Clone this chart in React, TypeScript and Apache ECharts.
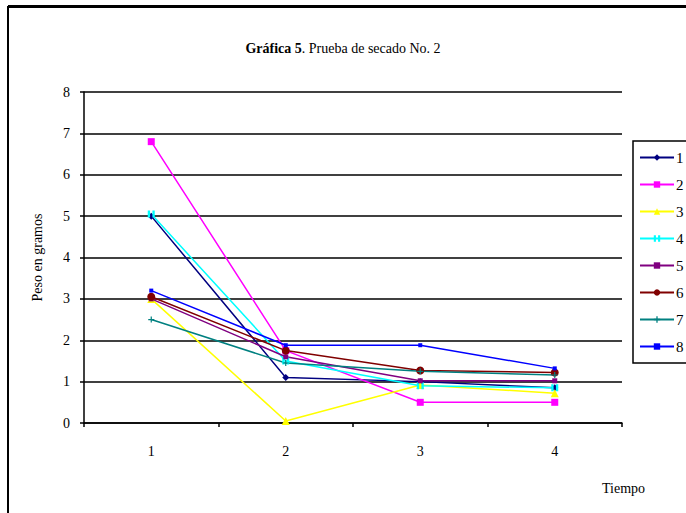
import React, { useEffect, useRef } from "react";
import * as echarts from "echarts";

const categories = ["1", "2", "3", "4"];
const seriesNames = ["1", "2", "3", "4", "5", "6", "7", "8"];
const s1 = [5.0, 1.1, 1.0, 0.85];
const s2 = [6.8, 1.75, 0.5, 0.5];
const s3 = [3.0, 0.05, 0.92, 0.72];
const s4 = [5.05, 1.5, 0.9, 0.85];
const s5 = [3.0, 1.6, 1.02, 1.02];
const s6 = [3.05, 1.75, 1.27, 1.22];
const s7 = [2.5, 1.45, 1.25, 1.16];
const s8 = [3.2, 1.88, 1.88, 1.32];
const seriesData = [s1, s2, s3, s4, s5, s6, s7, s8];
const colors = ["#000080", "#FF00FF", "#FFFF00", "#00FFFF", "#800080", "#800000", "#008080", "#0000FF"];
const symbols = [
  "diamond",
  "rect",
  "triangle",
  "path://M0,0 L2,0 L2,10 L0,10 Z M4,0 L6,0 L6,10 L4,10 Z",
  "rect",
  "circle",
  "path://M4,0 L6,0 L6,4 L10,4 L10,6 L6,6 L6,10 L4,10 L4,6 L0,6 L0,4 L4,4 Z",
  "rect",
];
const symbolSizes = [7, 7, 8, 7, 5, 8, 6, 4];
const yTicks = [0, 8, 1];

const FONT = "Liberation Serif";

export default function App() {
  const ref = useRef<HTMLDivElement>(null);
  useEffect(() => {
    if (!ref.current) return;
    const chart = echarts.init(ref.current, null, { renderer: "svg" });
    chart.setOption({
      animation: false,
      backgroundColor: "#ffffff",
      textStyle: { fontFamily: FONT },
      title: {
        text: "{b|Gráfica 5}. Prueba de secado No. 2",
        left: "center",
        top: 36,
        textStyle: {
          fontFamily: FONT,
          fontSize: 14,
          fontWeight: "normal",
          color: "#000",
          rich: { b: { fontFamily: FONT, fontSize: 14, fontWeight: "bold", color: "#000" } },
        },
      },
      graphic: [
        { type: "rect", shape: { x: 8, y: 7, width: 700, height: 520 }, style: { fill: "none", stroke: "#000", lineWidth: 2 }, silent: true },
        { type: "rect", shape: { x: 8, y: 5, width: 700, height: 3 }, style: { fill: "#000" }, silent: true },
      ],
      grid: { left: 84, right: 64, top: 92, bottom: 90, containLabel: false },
      legend: {
        orient: "vertical",
        left: 633,
        top: 141,
        data: seriesNames,
        itemWidth: 34,
        itemHeight: 8,
        itemGap: 12,
        padding: [9, 20, 9, 6],
        borderColor: "#000",
        borderWidth: 1.5,
        textStyle: { fontFamily: FONT, fontSize: 15, color: "#000", padding: [0, 0, 0, -3] },
      },
      xAxis: {
        type: "category",
        data: categories,
        boundaryGap: true,
        name: "Tiempo",
        nameLocation: "end",
        nameGap: 0,
        nameTextStyle: { fontFamily: FONT, fontSize: 14, color: "#000", padding: [58, 0, 0, -20], verticalAlign: "top" },
        axisLine: { lineStyle: { color: "#000", width: 1.5 } },
        axisTick: { show: true, length: 4, lineStyle: { color: "#000", width: 1.5 } },
        axisLabel: { fontFamily: FONT, fontSize: 14, color: "#000", margin: 21 },
        splitLine: { show: false },
      },
      yAxis: {
        type: "value",
        min: yTicks[0],
        max: yTicks[1],
        interval: yTicks[2],
        name: "Peso en gramos",
        nameLocation: "middle",
        nameGap: 40,
        nameTextStyle: { fontFamily: FONT, fontSize: 14, color: "#000" },
        axisLine: { show: true, lineStyle: { color: "#000", width: 1.5 } },
        axisTick: { show: true, length: 4, lineStyle: { color: "#000", width: 1.5 } },
        axisLabel: { fontFamily: FONT, fontSize: 14, color: "#000", margin: 14 },
        splitLine: { show: true, lineStyle: { color: "#000", width: 1.5 } },
      },
      series: seriesData.map((d, i) => ({
        name: seriesNames[i],
        type: "line",
        data: d,
        color: colors[i],
        symbol: symbols[i],
        symbolSize: symbolSizes[i],
        showSymbol: true,
        lineStyle: { width: 1.5, color: colors[i] },
        itemStyle: { color: colors[i] },
      })),
    });
    return () => chart.dispose();
  }, []);
  return <div ref={ref} style={{ width: 686, height: 513, position: "absolute", left: 0, top: 0 }} />;
}
